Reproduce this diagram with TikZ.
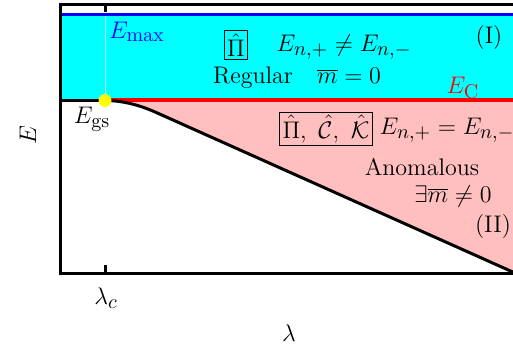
\documentclass[tikz,border=0pt]{standalone}
\DeclareMathSizes{12}{12}{10}{8}
\definecolor{cyanR}{RGB}{0,255,255}
\definecolor{pinkR}{RGB}{255,191,191}
\definecolor{yellowR}{RGB}{255,255,0}
\definecolor{redR}{RGB}{255,0,0}
\definecolor{blueR}{RGB}{0,0,255}
\definecolor{guideR}{RGB}{190,255,255}
\begin{document}
\begin{tikzpicture}[x=0.5pt,y=-0.5pt,
  lbl/.style={font=\fontsize{12}{14}\selectfont, inner sep=1pt},
  boxed/.style={draw, line width=0.5pt, inner sep=1.5pt},
  thick3/.style={line width=1.5pt}]
\useasboundingbox (0,0) rectangle (513,352);
% regions
\fill[cyanR] (60,15) rectangle (515,100.5);
\coordinate (dot) at (105,100.5);
\coordinate (knee) at (156,112.4);
\coordinate (cEnd) at (515,273);
\fill[pinkR] (dot) .. controls (122,100.5) and (139,104.8) .. (knee) -- (cEnd) -- (515,100.5) -- cycle;
% guide line
\draw[guideR, line width=0.4pt] (105,15) -- (dot);
% lines
\draw[blueR, thick3] (60,15) -- (515,15);
\draw[redR, line width=2pt] (dot) -- (515,100.5);
\draw[black, thick3] (60,100.5) -- (dot);
\draw[black, thick3] (dot) .. controls (122,100.5) and (139,104.8) .. (knee) -- (cEnd);
% axes box
\draw[black, thick3] (60,4.5) rectangle (515,273);
\draw[black, thick3] (105,4.5) -- (105,12);
\draw[black, thick3] (105,273) -- (105,265);
\fill[yellowR] (dot) circle (6.5);
% labels
\node[lbl, rotate=90] (ylab) at (28,135) {$E$};
\node[lbl] (xlab) at (289,333) {$\lambda$};
\node[lbl] (lamc) at (106,298) {$\lambda_c$};
\node[lbl, text=blueR] (emax) at (137,32) {$E_{\mathrm{max}}$};
\node[lbl, boxed] (pibox) at (236,45) {$\hat{\Pi}$};
\node[lbl] (neq) at (344,47) {$E_{n,+}\neq E_{n,-}$};
\node[lbl] (I) at (489,38) {(I)};
\node[lbl] (reg) at (297,78) {Regular\quad$\overline{m}=0$};
\node[lbl, text=redR] (ec) at (463,88) {$E_{\mathrm{C}}$};
\node[lbl] (egs) at (92,119) {$E_{\mathrm{gs}}$};
\node[lbl, boxed] (symbox) at (326,129) {$\hat{\Pi},\ \hat{\mathcal{C}},\ \hat{\mathcal{K}}$};
\node[lbl] (eq) at (447,130) {$E_{n,+}=E_{n,-}$};
\node[lbl] (anom) at (422,167) {Anomalous};
\node[lbl] (exm) at (453,197) {$\exists\overline{m}\neq 0$};
\node[lbl] (II) at (493,227) {(II)};
\end{tikzpicture}
\end{document}
